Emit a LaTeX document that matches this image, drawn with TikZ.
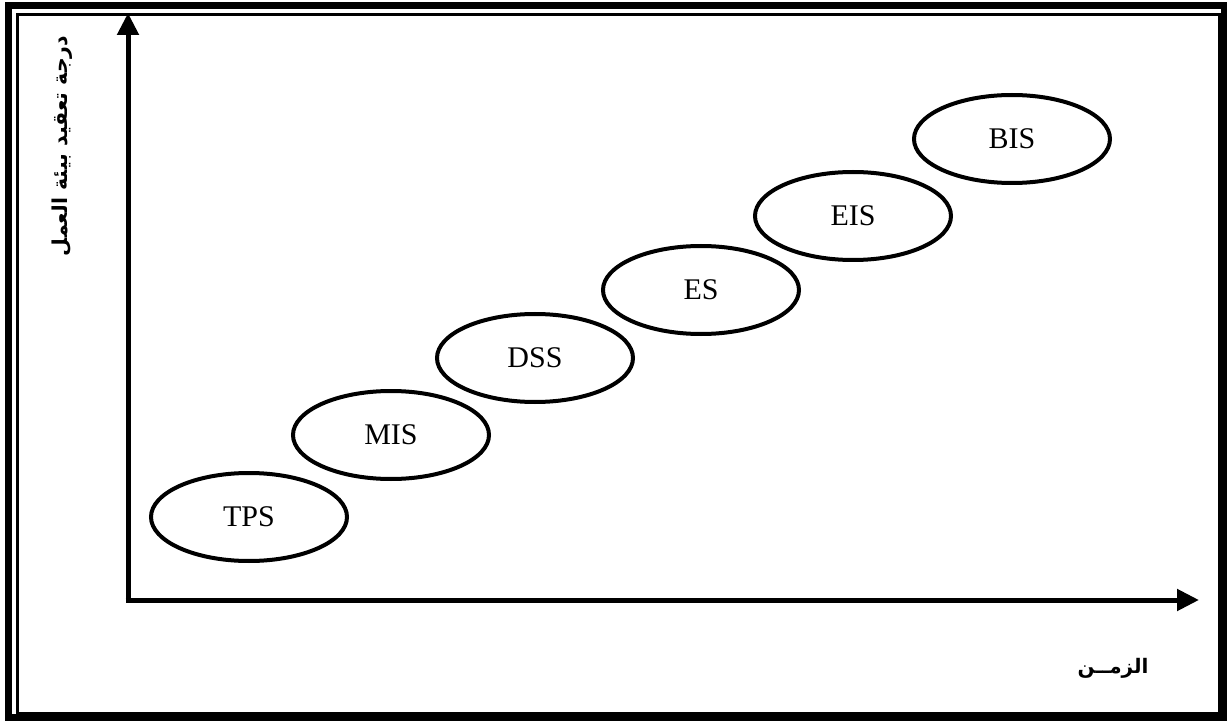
\documentclass[tikz,border=0pt]{standalone}
\usepackage{fontspec}
\setmainfont{Liberation Serif}
\newfontfamily\arabicfont[Script=Arabic]{DejaVu Sans}
\TeXXeTstate=1
\usetikzlibrary{shapes.geometric,arrows.meta}
\begin{document}
\begin{tikzpicture}[x=1pt,y=-1pt,
  stage/.style={ellipse,draw,line width=4pt,minimum width=196pt,minimum height=88pt,
    inner sep=0pt,font=\fontsize{30}{34}\selectfont},
  axis/.style={line width=5pt,-{Triangle[length=22pt,width=21pt]}},
  axlabel/.style={font=\arabicfont\bfseries\fontsize{#1}{#1}\selectfont,inner sep=0pt}]
  % page area and double frame
  \useasboundingbox (0,0) rectangle (1227,722);
  \fill[white] (0,0) rectangle (1227,722);
  \draw[line width=7pt] (8.5,5.5) rectangle (1224,717.5);
  \draw[line width=2.5pt] (17.5,14.5) rectangle (1219.5,713);
  % axes
  \coordinate (origin) at (128,600);
  \coordinate (ytip) at (128,13);
  \coordinate (xtip) at (1199,600);
  \draw[axis] ([yshift=2.5pt]origin) -- (ytip);
  \draw[axis] ([xshift=-2.5pt]origin) -- (xtip);
  % axis labels
  \node[axlabel=20.5,rotate=90] (ylab) at (62,146) {\beginR درجة تعقيد بيئة العمل\endR};
  \node[axlabel=20] (xlab) at (1113,668) {\beginR الزمــن\endR};
  % system generations
  \node[stage] (tps) at (249,517) {TPS};
  \node[stage] (mis) at (391,435) {MIS};
  \node[stage] (dss) at (535,358) {DSS};
  \node[stage] (es)  at (701,290) {ES};
  \node[stage] (eis) at (853,216) {EIS};
  \node[stage] (bis) at (1012,139) {BIS};
\end{tikzpicture}
\end{document}
